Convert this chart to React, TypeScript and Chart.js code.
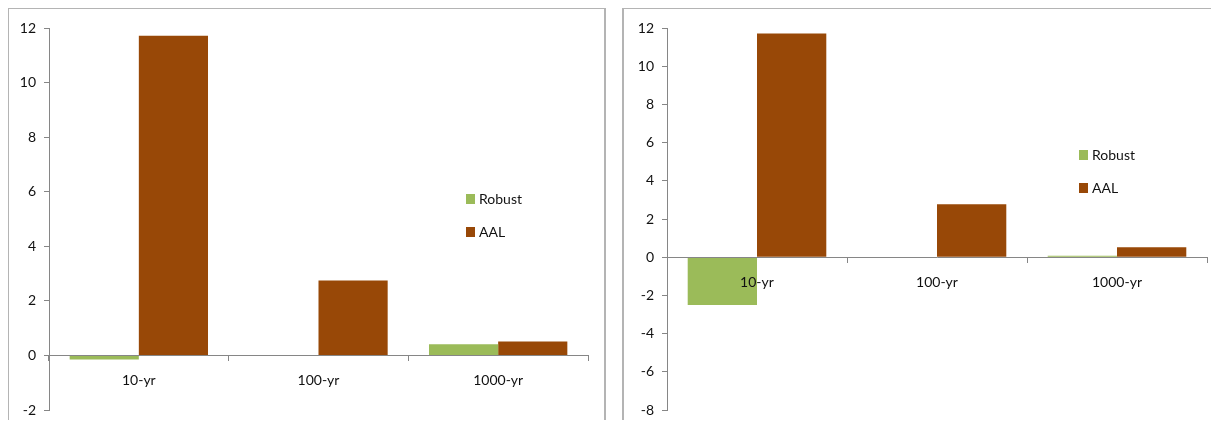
import React, { useEffect, useRef } from "react";
import { Chart, registerables } from "chart.js";

Chart.register(...registerables);

const categories = ["10-yr", "100-yr", "1000-yr"];
const leftRobust = [-0.15, 0, 0.41];
const leftAAL = [11.72, 2.75, 0.51];
const rightRobust = [-2.5, 0, 0.08];
const rightAAL = [11.71, 2.77, 0.52];
const leftTicks = { min: -2, max: 12, step: 2 };
const rightTicks = { min: -8, max: 12, step: 2 };
const seriesNames = ["Robust", "AAL"];
const seriesColors = ["#9BBB59", "#984807"];

const FONT = "Lato, 'Open Sans', sans-serif";
const AXIS = "#868686";

type PanelProps = {
  robust: number[];
  aal: number[];
  ticks: { min: number; max: number; step: number };
  axisWidth: number;
  padRight: number;
  width: number;
  legendX: number;
  legendY: number;
};

function Panel(p: PanelProps) {
  const ref = useRef<HTMLCanvasElement>(null);
  useEffect(() => {
    const chart = new Chart(ref.current!, {
      type: "bar",
      data: {
        labels: categories,
        datasets: [
          { label: seriesNames[0], data: p.robust, backgroundColor: seriesColors[0], categoryPercentage: 0.77, barPercentage: 1 },
          { label: seriesNames[1], data: p.aal, backgroundColor: seriesColors[1], categoryPercentage: 0.77, barPercentage: 1 },
        ],
      },
      options: {
        animation: false,
        responsive: false,
        maintainAspectRatio: false,
        layout: { padding: { left: 0, right: p.padRight, top: 19, bottom: 19 } },
        plugins: { legend: { display: false }, tooltip: { enabled: false } },
        scales: {
          x: {
            position: { y: 0 } as any,
            grid: { drawOnChartArea: false, drawTicks: true, tickLength: 5, color: AXIS, offset: true, z: 1 },
            border: { display: true, color: AXIS, width: 1, z: 1 },
            ticks: { font: { family: FONT, size: 14 }, color: "#111", padding: 12, maxRotation: 0, z: 1 },
          },
          y: {
            min: p.ticks.min,
            max: p.ticks.max,
            grid: { drawOnChartArea: false, drawTicks: true, tickLength: 5, color: AXIS },
            border: { display: true, color: AXIS, width: 1 },
            ticks: { stepSize: p.ticks.step, font: { family: FONT, size: 14 }, color: "#111", padding: 8 },
            afterFit: (scale: any) => {
              scale.width = p.axisWidth;
            },
          },
        },
      },
    });
    return () => chart.destroy();
  }, []);
  const sq = (c: string): React.CSSProperties => ({
    display: "inline-block",
    width: 9,
    height: 10,
    background: c,
    marginRight: 4,
    verticalAlign: "middle",
  });
  return (
    <div style={{ position: "relative", width: p.width, height: 430 }}>
      <canvas ref={ref} width={p.width} height={420} style={{ position: "absolute", left: 0, top: 0 }} />
      {seriesNames.map((n, i) => (
        <div
          key={n}
          style={{
            position: "absolute",
            left: p.legendX,
            top: p.legendY + i * 33,
            font: `14px ${FONT}`,
            color: "#111",
            lineHeight: "16px",
            whiteSpace: "nowrap",
          }}
        >
          <span style={sq(seriesColors[i])} />
          <span style={{ verticalAlign: "middle" }}>{n}</span>
        </div>
      ))}
    </div>
  );
}

export default function App() {
  const box: React.CSSProperties = {
    position: "absolute",
    top: -1,
    border: "2px solid #b4b4b4",
    background: "#fff",
    overflow: "hidden",
  };
  return (
    <div style={{ position: "relative", width: 1203, height: 412 }}>
      <div style={{ ...box, left: -1, width: 595, height: 440 }}>
        <Panel robust={leftRobust} aal={leftAAL} ticks={leftTicks} axisWidth={40} padRight={16} width={595} legendX={457} legendY={181} />
      </div>
      <div style={{ ...box, left: 614, width: 600, height: 440 }}>
        <Panel robust={rightRobust} aal={rightAAL} ticks={rightTicks} axisWidth={43} padRight={17} width={600} legendX={455} legendY={137} />
      </div>
    </div>
  );
}
